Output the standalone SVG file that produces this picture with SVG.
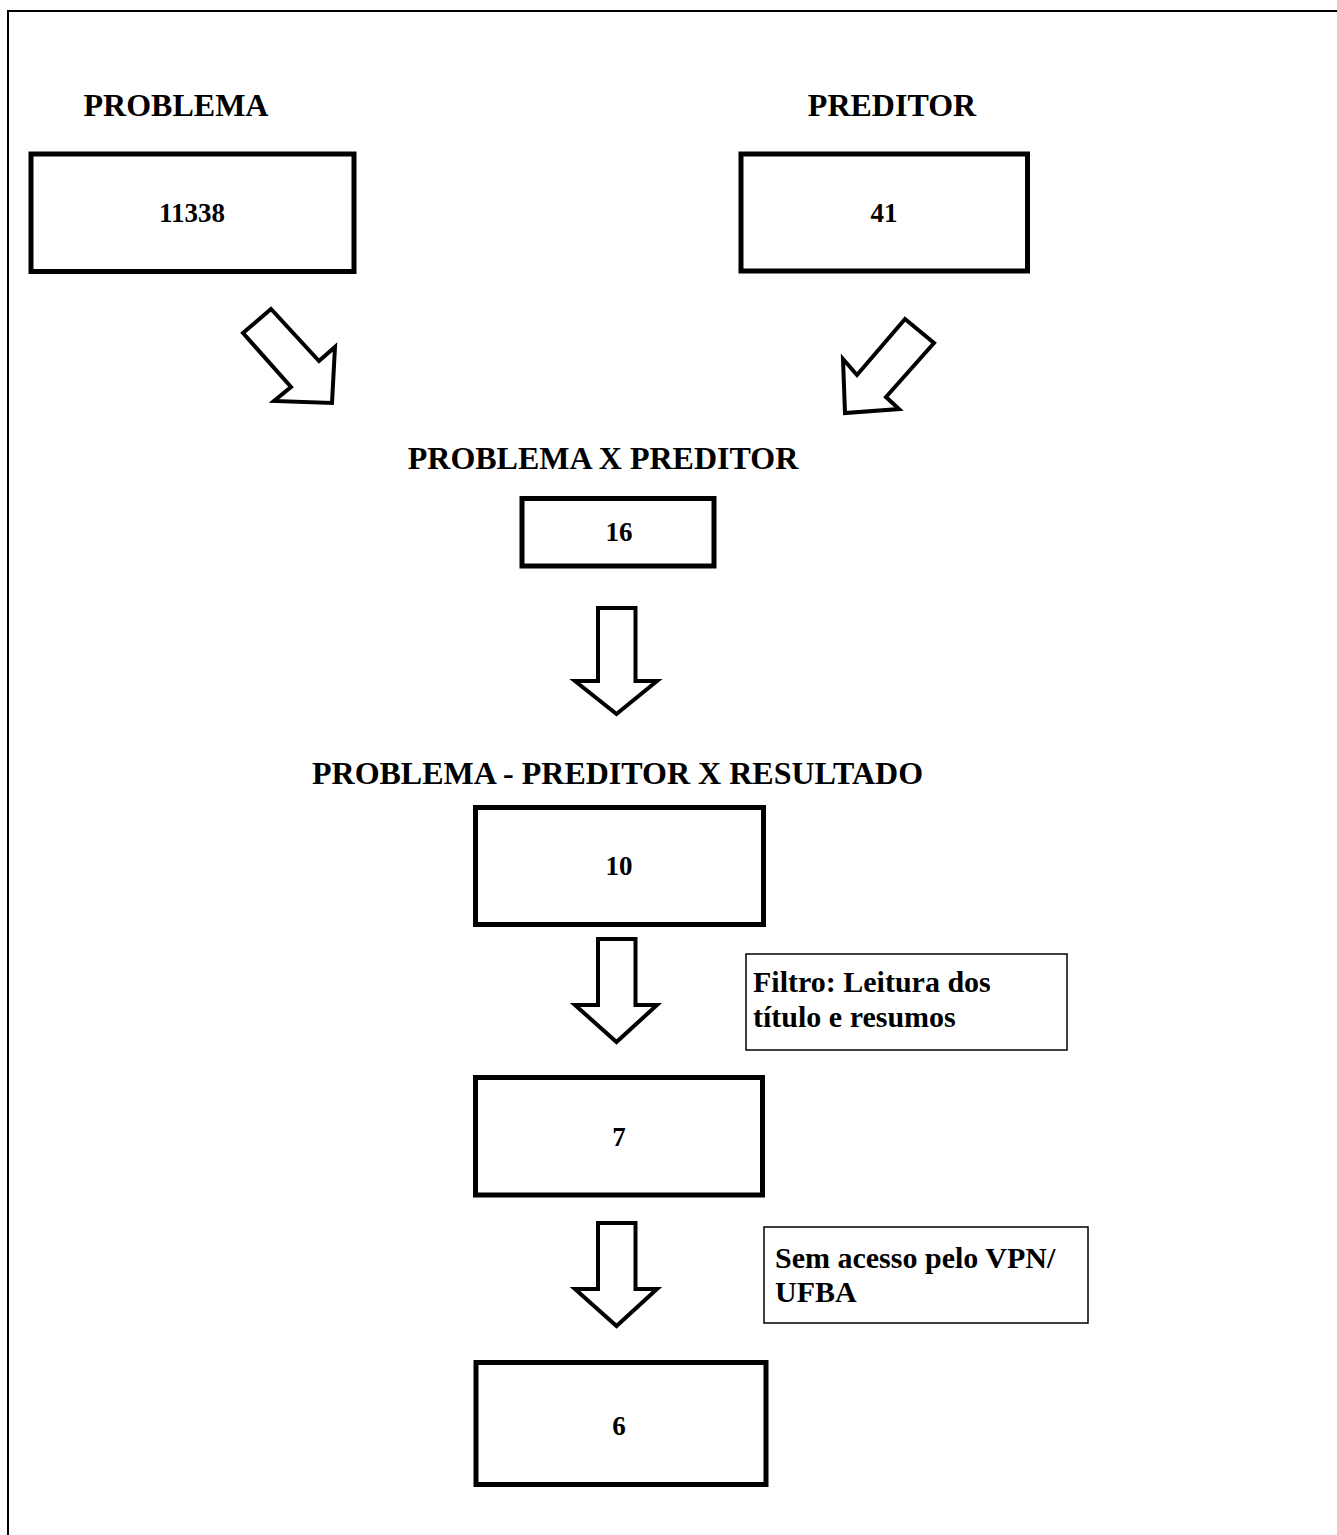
<svg xmlns="http://www.w3.org/2000/svg" width="1337" height="1535" viewBox="0 0 1337 1535">
<style>
  .t { font-family: "Liberation Serif", "Times New Roman", serif; font-weight: bold; fill: #000; }
  .h { font-size: 32px; text-anchor: middle; }
  .n { font-size: 27px; text-anchor: middle; }
  .a { font-size: 30px; }
  .box { fill: #fff; stroke: #000; stroke-width: 5; }
  .note { fill: #fff; stroke: #000; stroke-width: 1.5; }
  .arr { fill: #fff; stroke: #000; stroke-width: 4; stroke-linejoin: miter; }
</style>
<rect x="0" y="0" width="1337" height="1535" fill="#fff"/>
<rect x="8" y="11" width="1340" height="1540" fill="none" stroke="#000" stroke-width="2"/>

<g id="label-problema"><text class="t h" x="176" y="116">PROBLEMA</text></g>
<g id="label-preditor"><text class="t h" x="892" y="116">PREDITOR</text></g>

<g id="node-11338">
  <rect class="box" x="31" y="154" width="323" height="117.5"/>
  <text class="t n" x="192" y="222">11338</text>
</g>
<g id="node-41">
  <rect class="box" x="741" y="154" width="286.5" height="117"/>
  <text class="t n" x="884" y="222">41</text>
</g>

<g id="label-pxp"><text class="t h" x="603" y="469">PROBLEMA X PREDITOR</text></g>
<g id="node-16">
  <rect class="box" x="522" y="498.5" width="192" height="67.5" stroke-width="4.5"/>
  <text class="t n" x="619" y="541">16</text>
</g>

<g id="label-ppr"><text class="t h" x="617.5" y="784">PROBLEMA - PREDITOR X RESULTADO</text></g>
<g id="node-10">
  <rect class="box" x="475.5" y="807.5" width="288" height="117"/>
  <text class="t n" x="619" y="875">10</text>
</g>

<g id="note-filtro">
  <rect class="note" x="746" y="954" width="321" height="96"/>
  <text class="t a" x="753" y="992">Filtro: Leitura dos</text>
  <text class="t a" x="753" y="1027">título e resumos</text>
</g>

<g id="node-7">
  <rect class="box" x="475.5" y="1077.5" width="287" height="117.5"/>
  <text class="t n" x="619" y="1146">7</text>
</g>

<g id="note-vpn">
  <rect class="note" x="764" y="1227" width="324" height="96"/>
  <text class="t a" x="775" y="1268">Sem acesso pelo VPN/</text>
  <text class="t a" x="775" y="1302">UFBA</text>
</g>

<g id="node-6">
  <rect class="box" x="476" y="1362.5" width="290" height="122"/>
  <text class="t n" x="619" y="1435">6</text>
</g>

<g id="connectors">
  <polygon class="arr" points="243,333 271,309 319,361 335,347 332,403 274,401 291,387"/>
  <polygon class="arr" points="905,319 934,343 886,397 899,409 845,413 843,359 857,375"/>
  <polygon class="arr" points="598,608 635.5,608 635.5,681 657,681 616.5,714 575,681 598,681"/>
  <polygon class="arr" points="598,939 635.5,939 635.5,1005 657,1005 616.5,1042 575,1005 598,1005"/>
  <polygon class="arr" points="598,1223 635.5,1223 635.5,1289 657,1289 616.5,1326 575,1289 598,1289"/>
</g>
</svg>
